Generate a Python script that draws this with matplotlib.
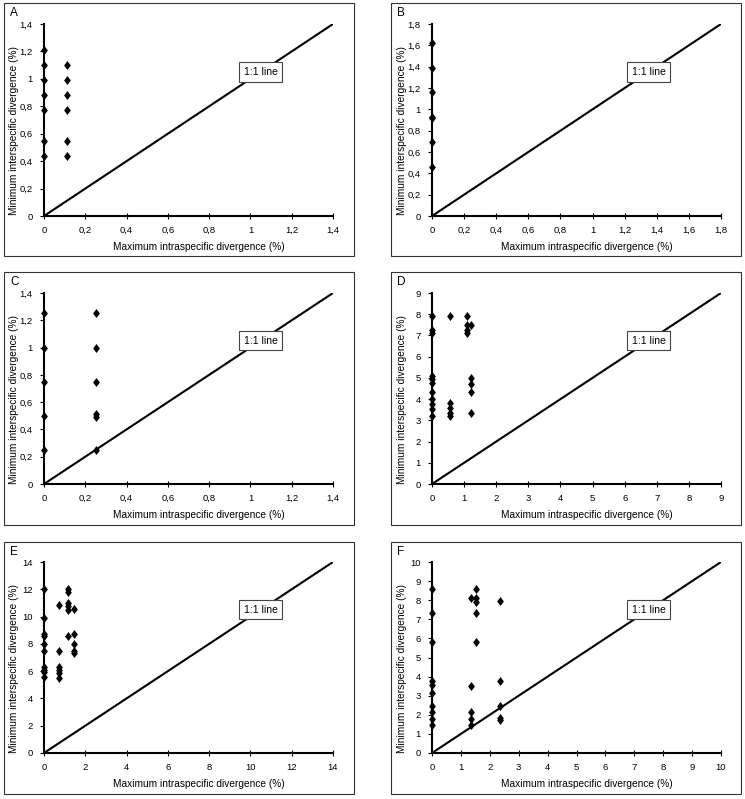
import matplotlib
matplotlib.use("Agg")
import matplotlib.pyplot as plt
from matplotlib.patches import Rectangle
from matplotlib.path import Path

plt.rcParams['font.family'] = ['Liberation Sans', 'DejaVu Sans']

# ---- data ----
panel_letters = ["A", "B", "C", "D", "E", "F"]
axis_max = [1.4, 1.8, 1.4, 9, 14, 10]
tick_step = [0.2, 0.2, 0.2, 1, 2, 1]

a_x = [0]*7 + [0.11]*6
a_y = [1.21, 1.10, 0.99, 0.88, 0.77, 0.55, 0.44,
       1.10, 0.99, 0.88, 0.77, 0.55, 0.44]

b_x = [0]*7
b_y = [1.62, 1.39, 1.16, 0.93, 0.92, 0.69, 0.46]

c_x = [0]*5 + [0.25]*6
c_y = [1.25, 1.0, 0.75, 0.5, 0.25,
       1.25, 1.0, 0.75, 0.51, 0.49, 0.25]

d_x = [0]*11 + [0.57]*5 + [1.1]*4 + [1.22]*5
d_y = [7.9, 7.25, 7.1, 5.1, 4.95, 4.75, 4.35, 4.0, 3.75, 3.55, 3.2,
       7.9, 3.8, 3.6, 3.35, 3.2,
       7.9, 7.5, 7.25, 7.1,
       7.5, 5.0, 4.7, 4.35, 3.35]

e_x = [0]*10 + [0.72]*6 + [1.18]*6 + [1.43]*5
e_y = [12.0, 9.9, 8.7, 8.55, 8.0, 7.45, 6.3, 6.1, 5.95, 5.6,
       10.85, 7.5, 6.3, 6.1, 5.85, 5.5,
       12.0, 11.8, 11.0, 10.8, 10.5, 8.55,
       10.55, 8.7, 8.0, 7.5, 7.3]

f_x = [0]*10 + [1.35]*5 + [1.52]*5 + [2.34]*5
f_y = [8.6, 7.35, 5.8, 3.75, 3.55, 3.15, 2.45, 2.15, 1.8, 1.45,
       8.1, 3.5, 2.15, 1.8, 1.45,
       8.6, 8.1, 7.9, 7.35, 5.8,
       7.95, 3.75, 2.45, 1.85, 1.75]

xs = [a_x, b_x, c_x, d_x, e_x, f_x]
ys = [a_y, b_y, c_y, d_y, e_y, f_y]

xlabel = "Maximum intraspecific divergence (%)"
ylabel = "Minimum interspecific divergence (%)"
line_label = "1:1 line"

# ---- layout (pixels) ----
W, H = 745, 799
fig = plt.figure(figsize=(W/100, H/100), dpi=100)

col_axes = [(44, 333), (432, 721)]
row_axes = [(24, 216), (293, 484), (562, 753)]
col_box = [(4, 354), (391, 741)]
row_box = [(3, 256), (272, 525), (542, 794)]
ylabel_x = [14, 402]

diamond = Path([(0, 1), (0.75, 0), (0, -1), (-0.75, 0), (0, 1)],
               [Path.MOVETO, Path.LINETO, Path.LINETO, Path.LINETO, Path.CLOSEPOLY])

def fmt(v):
    if abs(v - round(v)) < 1e-9:
        return str(int(round(v)))
    return ("%.1f" % v).replace('.', ',')

for i in range(6):
    r, c = divmod(i, 2)
    x0, x1 = col_axes[c]
    y0, y1 = row_axes[r]
    bx0, bx1 = col_box[c]
    by0, by1 = row_box[r]
    # panel box
    fig.patches.append(Rectangle((bx0/W, 1-by1/H), (bx1-bx0)/W, (by1-by0)/H,
                                 transform=fig.transFigure, fill=False,
                                 edgecolor='#333333', linewidth=0.8))
    fig.text((bx0+6)/W, 1-(by0+10)/H, panel_letters[i], fontsize=8.5,
             ha='left', va='center')
    ax = fig.add_axes([x0/W, 1-y1/H, (x1-x0)/W, (y1-y0)/H])
    m = axis_max[i]
    ax.plot([0, m], [0, m], color='black', linewidth=1.5, zorder=2)
    ax.scatter(xs[i], ys[i], marker=diamond, s=42, color='black', zorder=3,
               clip_on=False, linewidths=0)
    ax.set_xlim(0, m)
    ax.set_ylim(0, m)
    n = int(round(m / tick_step[i]))
    ticks = [k*tick_step[i] for k in range(n+1)]
    ax.set_xticks(ticks)
    ax.set_yticks(ticks)
    ax.set_xticklabels([fmt(t) for t in ticks])
    ax.set_yticklabels([fmt(t) for t in ticks])
    for s in ['top', 'right']:
        ax.spines[s].set_visible(False)
    for s in ['left', 'bottom']:
        ax.spines[s].set_linewidth(1.5)
        ax.spines[s].set_color('black')
    ax.tick_params(axis='x', direction='inout', length=4, width=0.8,
                   labelsize=6.8, pad=5, colors='black')
    ax.tick_params(axis='y', direction='out', length=3, width=0.8,
                   labelsize=6.8, pad=5, colors='black')
    ax.set_xlabel(xlabel, fontsize=7.3)
    ax.set_ylabel(ylabel, fontsize=7.3)
    h = y1 - y0
    ax.xaxis.set_label_coords(((x1 - x0)/2 + 10)/(x1 - x0), -31/h)
    ax.yaxis.set_label_coords((ylabel_x[c] - x0)/(x1 - x0), (h/2 - 11)/h)
    ax.xaxis.label.set_va('center')
    ax.yaxis.label.set_va('center')
    ax.text(0.75*m, 0.75*m, line_label, fontsize=7.5, ha='center', va='center',
            bbox=dict(boxstyle='square,pad=0.45', facecolor='white',
                      edgecolor='#444444', linewidth=0.8), zorder=4)
    ax.patch.set_alpha(0)

fig.savefig("out.png", dpi=100)
